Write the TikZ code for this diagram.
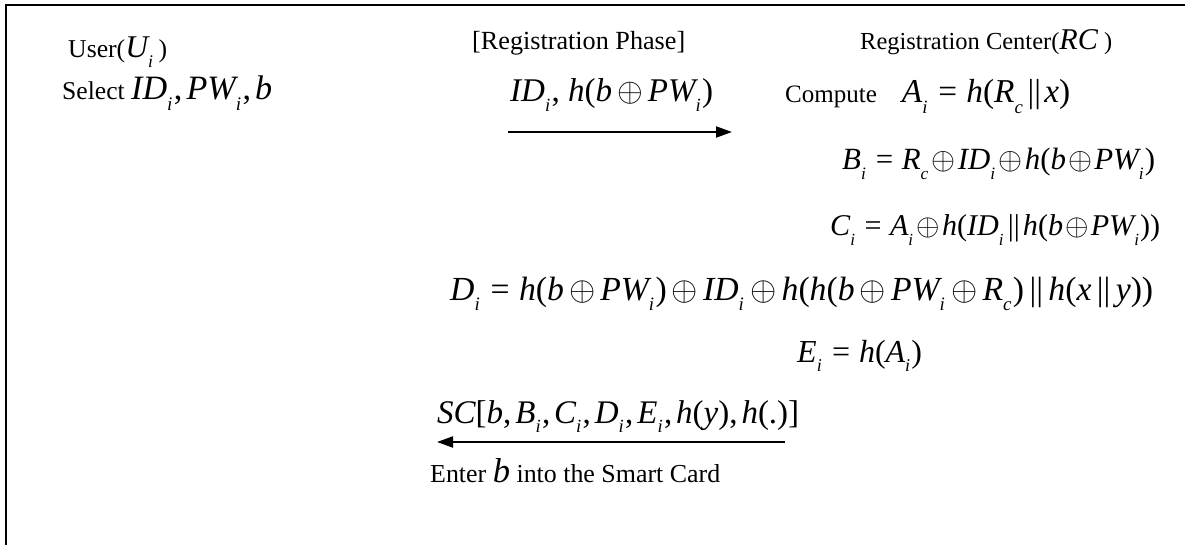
\documentclass[tikz,border=0pt]{standalone}
\usepackage{fix-cm}
\usepackage{graphicx}
\usepackage{fontspec}
\setmainfont{Liberation Serif}
\usetikzlibrary{arrows.meta}
\newcommand{\I}[1]{{\itshape #1}}
\newcommand{\sbs}[1]{\raisebox{-0.3em}{\fontsize{18}{19}\selectfont\itshape #1}\hspace{0.04em}}
\newcommand{\op}{\hspace{0.15em}$\oplus$\hspace{0.15em}}
\newcommand{\opt}{\hspace{0.07em}$\oplus$\hspace{0.07em}}
\newcommand{\M}[1]{{\fontsize{32}{36}\selectfont #1}}
\newcommand{\cat}{\hspace{0.16em}||\hspace{0.16em}}
\newcommand{\catt}{\hspace{0.1em}||\hspace{0.1em}}
\newcommand{\eq}{\hspace{0.28em}=\hspace{0.28em}}
\newcommand{\fitw}[2]{\resizebox{#1pt}{!}{#2}}
\tikzset{
  title/.style={anchor=base west, inner sep=0pt, font=\fontsize{26}{30}\selectfont},
  body/.style={anchor=base west, inner sep=0pt, font=\fontsize{24}{28}\selectfont},
  msg/.style={line width=2pt, -{Triangle[length=16pt,width=11pt]}},
  frame/.style={line width=2pt}
}
\begin{document}
\begin{tikzpicture}[x=1pt,y=-1pt]
\useasboundingbox (0,0) rectangle (1185,545);
\fill[white] (0,0) rectangle (1185,545);
\draw[frame] (6,545) -- (6,5) -- (1185,5);
% titles
\node[title] (user) at (68,58) {\fitw{99}{User(\M{\I{U}\sbs{i}}\,)}};
\node[title] (phase) at (472,50) {\fitw{213}{[Registration Phase]}};
\node[title] (rc) at (860,50) {\fitw{252}{Registration Center(\M{\I{RC}} )}};
% user side
\node[body] (sel) at (62,100) {\fitw{210}{Select \M{\I{ID}\sbs{i},\hspace{0.12em}\I{PW}\sbs{i},\hspace{0.12em}\I{b}}}};
% message 1
\node[body] (m1) at (510,102) {\fitw{203}{\M{\I{ID}\sbs{i}, \I{h}(\I{b}\op\I{PW}\sbs{i})}}};
\coordinate (a1s) at (508,132);
\coordinate (a1e) at (732,132);
\draw[msg] (a1s) -- (a1e);
% RC computations
\node[body] (comp) at (785,103) {\fitw{285}{Compute\quad\M{\I{A}\sbs{i}\eq\I{h}(\I{R}\sbs{c}\catt\I{x})}}};
\node[body] (bi) at (842,170) {\fitw{313}{\M{\I{B}\sbs{i}\eq\I{R}\sbs{c}\opt\I{ID}\sbs{i}\opt\I{h}(\I{b}\opt\I{PW}\sbs{i})}}};
\node[body] (ci) at (830,236) {\fitw{330}{\M{\I{C}\sbs{i}\eq\I{A}\sbs{i}\opt\I{h}(\I{ID}\sbs{i}\catt\I{h}(\I{b}\opt\I{PW}\sbs{i}))}}};
\node[body] (di) at (450,300) {\fitw{703}{\M{\I{D}\sbs{i}\eq\I{h}(\I{b}\op\I{PW}\sbs{i})\op\I{ID}\sbs{i}\op\I{h}(\I{h}(\I{b}\op\I{PW}\sbs{i}\op\I{R}\sbs{c})\cat\I{h}(\I{x}\cat\I{y}))}}};
\node[body] (ei) at (797,362) {\M{\I{E}\sbs{i}\eq\I{h}(\I{A}\sbs{i})}};
% message 2
\node[body] (m2) at (437,423) {\fitw{362}{\M{\I{SC}[\I{b},\hspace{0.12em}\I{B}\sbs{i},\hspace{0.12em}\I{C}\sbs{i},\hspace{0.12em}\I{D}\sbs{i},\hspace{0.12em}\I{E}\sbs{i},\hspace{0.12em}\I{h}(\I{y}),\hspace{0.12em}\I{h}(.)]}}};
\coordinate (a2s) at (785,442);
\coordinate (a2e) at (437,442);
\draw[msg] (a2s) -- (a2e);
\node[body] (enter) at (430,482) {\fitw{290}{Enter \M{\I{b}} into the Smart Card}};
\end{tikzpicture}
\end{document}
